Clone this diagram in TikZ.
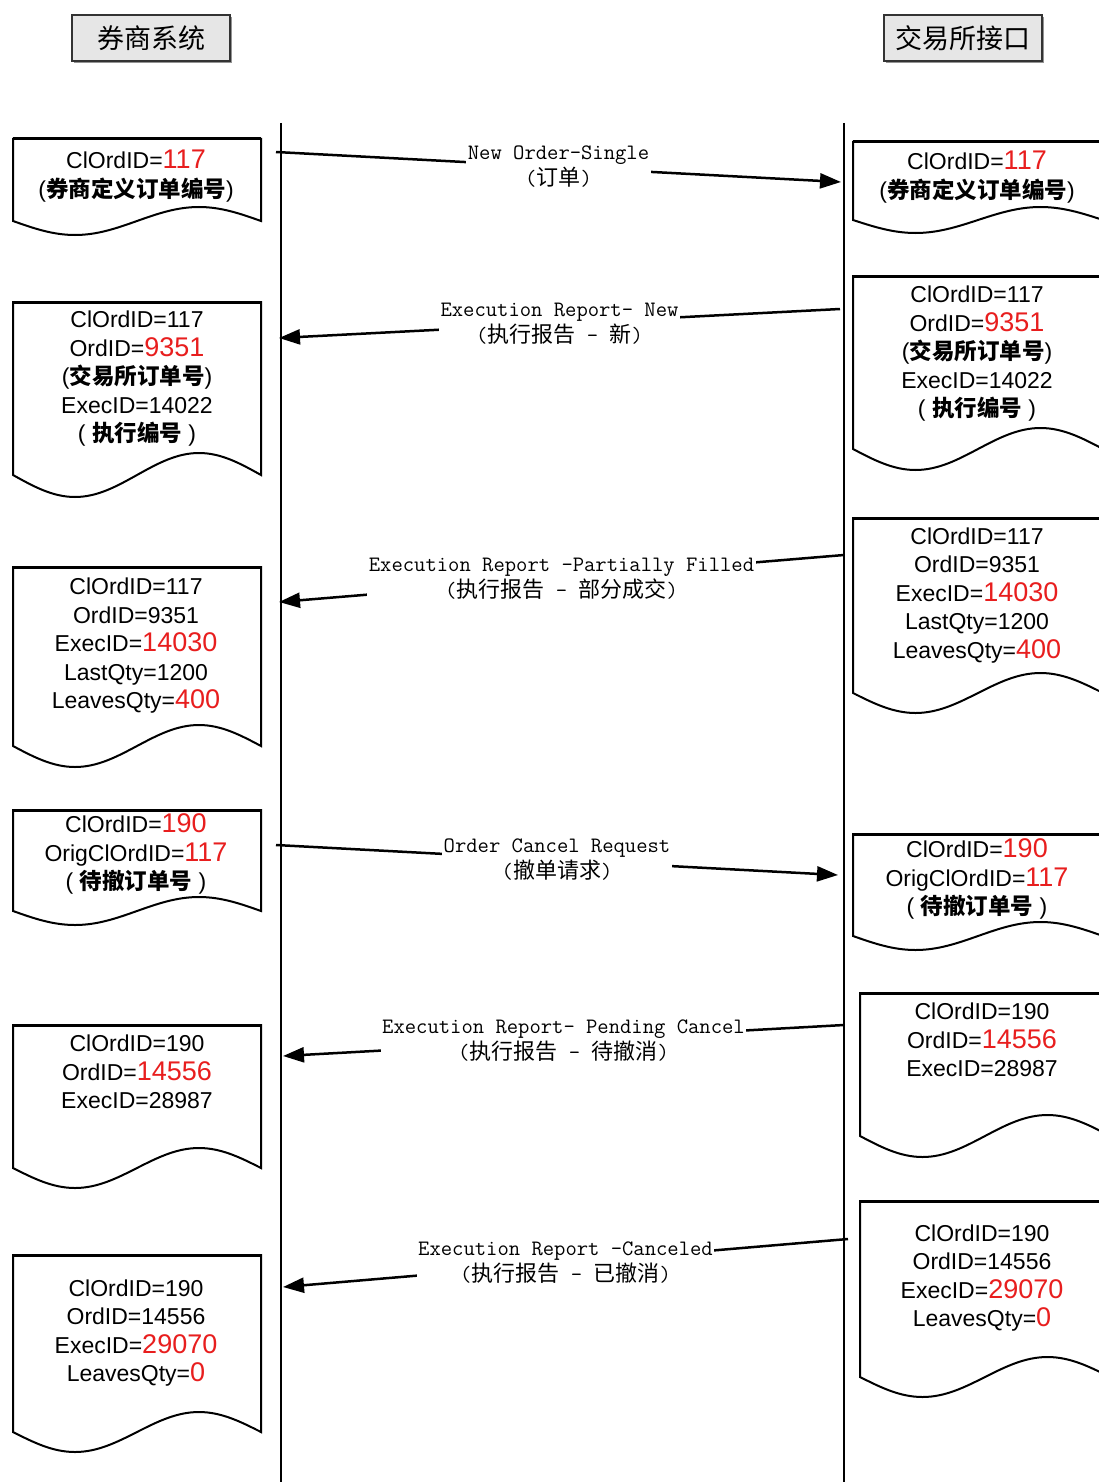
\documentclass[tikz,border=0pt]{standalone}
\usepackage{fontspec}
\setmainfont{Liberation Sans}
\newfontfamily\cjk{Noto Sans CJK SC}
\usetikzlibrary{arrows.meta,shadows}
\definecolor{idred}{RGB}{232,30,30}
\definecolor{hdrfill}{RGB}{230,230,230}
\newcommand{\rd}[1]{{\color{idred}\fontsize{27}{28.5}\selectfont #1}}
\newcommand{\zh}[1]{{\cjk\bfseries\fontsize{22.5}{28.5}\selectfont #1}}
\newcommand{\lz}[1]{{\cjk #1}}
\newcommand{\docshape}[5]{%
  \filldraw[docline] (#1,#2) -- ({#1+#3},#2) -- ({#1+#3},#4)
    sin ({#1+0.75*#3},{#4-#5}) cos ({#1+0.5*#3},#4)
    sin ({#1+0.25*#3},{#4+#5}) cos (#1,#4) -- cycle;
  \draw[line width=3pt] (#1,#2) -- ({#1+#3},#2);}
\begin{document}
\begin{tikzpicture}[x=1pt,y=-1pt,
  docline/.style={draw=black, fill=white, line width=2pt},
  life/.style={draw=black, line width=2pt},
  msg/.style={draw=black, line width=2.5pt, -{Triangle[length=21pt,width=15pt]}},
  lbl/.style={fill=white, inner sep=1.5pt, align=center, font=\ttfamily\fontsize{22}{26}\selectfont},
  doctext/.style={inner sep=0pt, align=center, font=\fontsize{23}{28.5}\selectfont},
  hdr/.style={draw=black!80, line width=2pt, fill=hdrfill, minimum width=158pt, minimum height=46pt, inner sep=0pt, font=\cjk\fontsize{27}{30}\selectfont, drop shadow={shadow xshift=2pt, shadow yshift=-2pt, opacity=0.7, fill=black!60}}]
\useasboundingbox (0,0) rectangle (1099,1482);
\fill[white] (0,0) rectangle (1099,1482);
\clip (0,0) rectangle (1099,1482);

% headers
\node[hdr] (broker) at (151,38.5) {券商系统};
\node[hdr] (exch) at (963,38.5) {交易所接口};

% lifelines
\coordinate (LT) at (281,123);
\coordinate (LB) at (281,1482);
\coordinate (RT) at (844,123);
\coordinate (RB) at (844,1482);
\draw[life] (LT) -- (LB);
\draw[life] (RT) -- (RB);

% left documents
\docshape{13}{139}{248}{221}{14}
\docshape{13}{302}{248}{475}{22}
\docshape{13}{567}{248}{746}{21}
\docshape{13}{810}{248}{911}{14}
\docshape{13}{1025}{248}{1168}{20}
\docshape{13}{1255}{248}{1432}{20}
% right documents
\docshape{853}{142}{250}{220}{13}
\docshape{853}{276}{250}{449}{21}
\docshape{853}{518}{250}{693}{20}
\docshape{853}{834}{250}{936}{14}
\docshape{860}{993}{250}{1136}{21}
\docshape{860}{1201}{250}{1377}{20}

% document texts
\node[doctext] (l1) at (136,176) {ClOrdID=\rd{117}\\(\zh{券商定义订单编号})};
\node[doctext] (r1) at (977,177) {ClOrdID=\rd{117}\\(\zh{券商定义订单编号})};
\node[doctext] (l2) at (137,379) {ClOrdID=117\\OrdID=\rd{9351}\\(\zh{交易所订单号})\\ExecID=14022\\( \zh{执行编号} )};
\node[doctext] (r2) at (977,354) {ClOrdID=117\\OrdID=\rd{9351}\\(\zh{交易所订单号})\\ExecID=14022\\( \zh{执行编号} )};
\node[doctext] (l3) at (136,646) {ClOrdID=117\\OrdID=9351\\ExecID=\rd{14030}\\LastQty=1200\\LeavesQty=\rd{400}};
\node[doctext] (r3) at (977,595.5) {ClOrdID=117\\OrdID=9351\\ExecID=\rd{14030}\\LastQty=1200\\LeavesQty=\rd{400}};
\node[doctext] (l4) at (136,854) {ClOrdID=\rd{190}\\OrigClOrdID=\rd{117}\\( \zh{待撤订单号} )};
\node[doctext] (r4) at (977,879) {ClOrdID=\rd{190}\\OrigClOrdID=\rd{117}\\( \zh{待撤订单号} )};
\node[doctext] (l5) at (137,1072) {ClOrdID=190\\OrdID=\rd{14556}\\ExecID=28987};
\node[doctext] (r5) at (982,1040) {ClOrdID=190\\OrdID=\rd{14556}\\ExecID=28987};
\node[doctext] (l6) at (136,1333) {ClOrdID=190\\OrdID=14556\\ExecID=\rd{29070}\\LeavesQty=\rd{0}};
\node[doctext] (r6) at (982,1278) {ClOrdID=190\\OrdID=14556\\ExecID=\rd{29070}\\LeavesQty=\rd{0}};

% messages
\coordinate (a1s) at (276,152);  \coordinate (a1e) at (841,182);
\coordinate (a2s) at (840,309);  \coordinate (a2e) at (279,338);
\coordinate (a3s) at (844,555);  \coordinate (a3e) at (279,602);
\coordinate (a4s) at (276,845);  \coordinate (a4e) at (838,875);
\coordinate (a5s) at (844,1025); \coordinate (a5e) at (283,1056);
\coordinate (a6s) at (848,1239); \coordinate (a6e) at (283,1287);

\draw[msg] (a1s) -- node[lbl] (m1) {New Order-Single\\(\lz{订单})} (a1e);
\draw[msg] (a2s) -- node[lbl] (m2) {Execution Report- New\\(\lz{执行报告} - \lz{新})} (a2e);
\draw[msg] (a3s) -- node[lbl] (m3) {Execution Report -Partially Filled\\(\lz{执行报告} - \lz{部分成交})} (a3e);
\draw[msg] (a4s) -- node[lbl] (m4) {Order Cancel Request\\(\lz{撤单请求})} (a4e);
\draw[msg] (a5s) -- node[lbl] (m5) {Execution Report- Pending Cancel\\(\lz{执行报告} - \lz{待撤消})} (a5e);
\draw[msg] (a6s) -- node[lbl] (m6) {Execution Report -Canceled\\(\lz{执行报告} - \lz{已撤消})} (a6e);
\end{tikzpicture}
\end{document}
